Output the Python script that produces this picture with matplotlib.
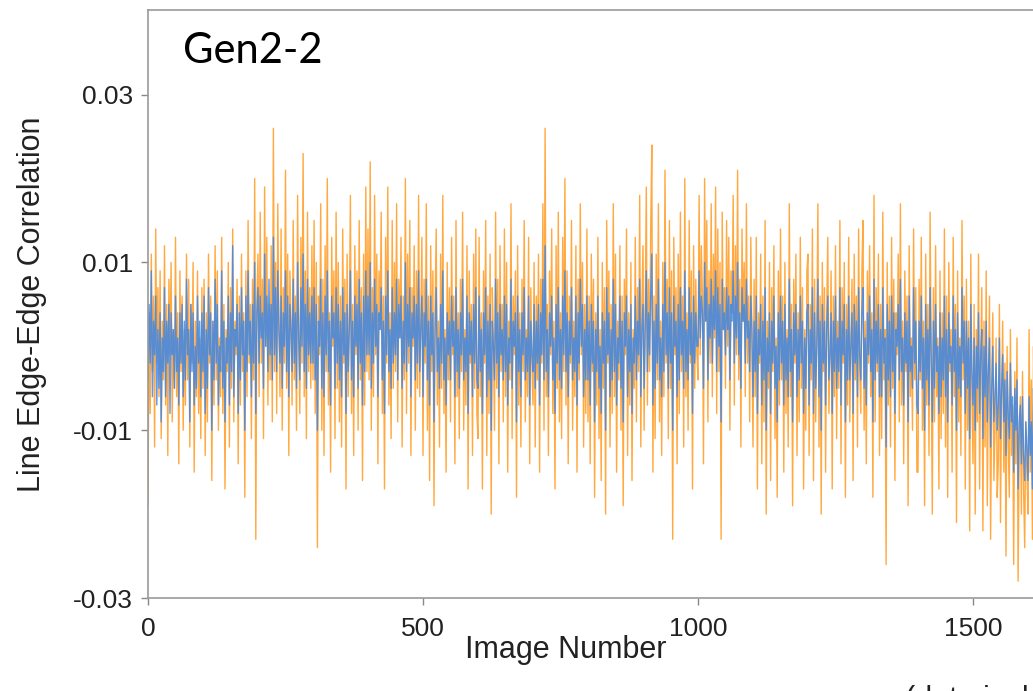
import numpy as np
import matplotlib
matplotlib.use("Agg")
import matplotlib.pyplot as plt

# edge-edge correlation per image, in units of 1e-4, one sample every 2 images
orange_1e4 = [
    -190, 40, -80, 110, -30, 60, -120, 140, -20, 70, -60, 90, -110, 30, -40, 120, -70, 50, -130, 80, -10, 100, -90, 20, -50,
    130, -60, 40, -140, 90, -30, 60, -100, 20, -70, 110, -40, 80, -120, 50, -20, 100, -150, 30, -60, 90, -80, 10, -110, 70,
    -50, 80, -130, 40, -90, 110, -20, 60, -160, 30, -70, 120, -40, 90, -100, 10, -60, 130, -80, 50, -170, 20, -30, 100, -120,
    70, -50, 140, -90, 30, -10, 80, -140, 60, -70, 110, -30, 40, -180, 90, -60, 150, -20, 50, -110, 80, -40, 200, -230, 60,
    110, -60, 160, -20, 80, -110, 190, 0, 130, -70, 50, -40, 120, -90, 260, -30, 100, -80, 170, 20, -60, 140, -100, 70, -20,
    210, -50, 110, -130, 90, 30, -70, 150, -40, 60, -100, 180, 10, -80, 130, -20, 230, -60, 90, -110, 160, -30, 70, -50, 120,
    -40, 150, -80, 100, -240, 60, -10, 170, -100, 80, -130, 120, -30, 200, -70, 40, -150, 130, 0, 90, -110, 160, -50, 100, -90,
    60, -120, 140, -20, 80, -170, 110, -60, 30, 180, -80, 50, -130, 120, -10, 90, -100, 150, -40, 70, -160, 110, -70, 190, -30,
    140, -40, 220, -100, 70, -60, 180, -10, 110, -140, 90, 20, 160, -80, 60, -170, 130, -20, 190, -70, 40, -110, 150, -50, 100,
    -30, 170, -90, 80, 10, 130, -120, 60, -40, 200, -80, 110, -20, 150, -130, 70, 0, 120, -100, 90, -50, 180, -60, 40, 130,
    -130, 80, -20, 170, -100, 60, -160, 120, -30, 90, -190, 50, 140, -70, 30, -120, 110, -50, 180, -80, 20, -150, 100, -40, 70,
    -90, 130, -10, 60, -140, 150, -60, 40, -110, 80, -30, 160, -100, 20, -70, 120, -170, 90, -20, 50, -130, 110, -50, 140, -80,
    -110, 130, -60, 40, -170, 90, -20, 150, -130, 60, -80, 110, -200, 70, 10, -100, 160, -50, 80, -140, 120, -30, 50, -90, 140,
    -60, 100, -150, 30, -40, 170, -110, 60, -10, 90, -180, 120, -70, 40, -120, 80, -30, 150, -90, 20, -60, 130, -140, 70, -20,
    -70, 100, -120, 60, -40, 110, -150, 80, -20, 170, -100, 260, -60, 50, -130, 90, -10, 140, -80, 30, -170, 120, -50, 160, -90,
    40, -110, 130, -30, 200, -70, 90, -140, 60, -20, 150, -100, 30, -60, 120, -150, 80, -40, 170, -10, 100, -120, 50, -80, 140,
    -90, 60, -140, 110, -30, 80, -180, 40, -70, 130, -110, 20, -160, 100, -50, 70, -200, 150, -20, 90, -120, 50, -80, 170, -60,
    110, -150, 30, -40, 120, -100, 60, -190, 80, -10, 140, -130, 40, -70, 100, -160, 20, -50, 130, -90, 70, -30, 180, -120, 50,
    120, -100, 40, 190, -70, 80, -30, 140, 240, -150, 60, -110, 110, -40, 170, -90, 30, -130, 100, -60, 210, -20, 80, -110, 150,
    -50, 90, -230, 130, -10, 70, -140, 110, -80, 160, -30, 60, -120, 200, -60, 40, -100, 150, -20, 90, -170, 120, -50, 80, -10,
    -40, 180, -10, 120, 60, -140, 200, 30, 150, -90, 90, -20, 170, -60, 110, 10, 190, -80, 140, -30, 100, -230, 160, 20, 70,
    -50, 150, 0, 130, -100, 90, 40, 180, -70, 120, -10, 210, -40, 80, -120, 140, 30, 100, -60, 170, -20, 60, -90, 130, 10,
    -120, 80, -60, 130, -170, 40, -20, 110, -140, 60, -90, 150, -200, 30, -50, 100, -160, 70, -30, 120, -110, 10, -180, 90, -70,
    140, -40, 60, -150, 100, -80, 20, -120, 170, -60, 50, -190, 80, -20, 110, -130, 40, -90, 130, -50, 70, -170, 20, -100, 90,
    110, -130, 50, -40, 140, -160, 80, -90, 20, 170, -120, 60, -200, 100, -30, 70, -150, 40, 130, -80, -10, 90, -170, 60, -60,
    120, -110, 30, -50, 150, -140, 70, -20, 100, -180, 50, -70, 130, -90, 10, 80, -160, 110, -40, 60, -120, 140, -30, -80, 90,
    150, -100, 30, -140, 90, -20, 120, -60, 40, -180, 180, -90, 70, -30, 110, -130, 50, -110, 160, -40, 20, -260, 100, -70, 60,
    -120, 130, -50, 80, -160, 40, -10, 110, -90, 170, -70, 30, -140, 90, -30, 60, -190, 120, -60, 10, -100, 140, -40, 70, -150,
    -150, 80, -40, 130, -100, 30, -190, 110, -70, 50, -130, 160, -20, -200, 70, -90, 120, -60, 10, -170, 90, -110, 40, -80, 140,
    -120, 60, -180, 100, -30, 20, -150, 130, -60, 50, -210, 90, -90, 10, -130, 150, -40, 60, -170, 80, -100, 30, -220, 110, -60,
    -140, 50, -200, 20, -90, 110, -170, -10, 70, -220, 30, -120, 90, -190, -40, 60, -230, -60, 40, -160, -100, 10, -180, -140, 50,
    -210, -60, 30, -150, -20, -250, 0, -110, -180, 20, -130, -70, -260, -30, -140, 10, -280, -120, -60, -200, -30, -170, -240, -90, -150,
    -200, 20, -150, -40, -230, 0, -120, -180, 30, -90, -160, -20, -110, -210, -50, -130, 10, -170, -80, -140, -30, -190, -70, -120, -40,
]
blue_1e4 = [
    -40, 50, -20, 90, -60, 30, -10, 60, -70, 20, -50, 40, -90, 10, -30, 70, -60, 30, -20, 50, -80, 40, -10, 20, -50,
    60, -30, 10, -70, 40, -20, 50, -60, 30, -40, 80, -10, 20, -90, 50, -30, 40, -70, 0, -50, 60, -20, 30, -60, 40,
    -30, 60, -80, 20, -50, 70, -10, 40, -100, 30, -40, 80, -20, 50, -70, 0, -30, 90, -50, 30, -90, 10, -20, 60, -70,
    40, -30, 120, -60, 20, 0, 50, -80, 40, -40, 70, -10, 30, -100, 60, -30, 90, -10, 30, -60, 50, -20, 100, -80, 40,
    70, -20, 60, 10, 40, -50, 110, 0, 60, -30, 80, -10, 50, -40, 130, -10, 70, -30, 90, 20, -20, 60, -50, 40, 0,
    90, -30, 60, -60, 50, 20, -30, 80, -20, 40, -50, 100, 10, -40, 70, 0, 110, -30, 50, -50, 80, -10, 40, -20, 60,
    -20, 70, -40, 50, -100, 30, 0, 80, -50, 40, -60, 60, -10, 90, -30, 30, -70, 60, 10, 40, -50, 70, -20, 50, -40,
    30, -60, 70, -10, 40, -80, 50, -30, 20, 90, -40, 30, -60, 60, 0, 50, -50, 80, -20, 40, -70, 60, -30, 90, -10,
    60, -10, 100, -50, 40, -20, 80, 0, 50, -60, 40, 20, 70, -40, 30, -80, 60, -10, 90, -30, 20, -50, 70, -20, 40,
    -10, 80, -40, 50, 10, 60, -50, 30, -20, 100, -30, 50, 0, 70, -60, 40, 10, 60, -40, 50, -20, 90, -30, 20, 60,
    -60, 40, 0, 80, -40, 30, -70, 60, -10, 40, -90, 20, 70, -30, 10, -50, 50, -20, 90, -40, 10, -70, 40, -10, 30,
    -40, 60, 0, 30, -60, 70, -30, 20, -50, 40, -10, 80, -40, 10, -30, 60, -80, 40, -10, 30, -60, 50, -20, 70, -40,
    -50, 60, -30, 20, -80, 40, -10, 70, -60, 30, -40, 50, -100, 30, 0, -40, 80, -20, 40, -60, 50, -10, 20, -40, 60,
    -30, 50, -70, 10, -20, 80, -50, 30, 0, 40, -90, 60, -30, 20, -60, 40, -10, 70, -40, 10, -30, 60, -70, 30, -10,
    -30, 50, -50, 30, -20, 50, -70, 40, -10, 80, -40, 120, -30, 20, -60, 40, 0, 60, -40, 10, -80, 50, -20, 70, -40,
    20, -50, 60, -10, 90, -30, 40, -60, 30, -10, 70, -40, 10, -30, 60, -70, 40, -20, 80, 0, 50, -60, 20, -40, 60,
    -40, 30, -70, 50, -20, 30, -90, 20, -30, 60, -50, 0, -80, 40, -20, 30, -100, 70, -10, 40, -60, 20, -40, 80, -30,
    50, -70, 10, -20, 60, -50, 30, -90, 40, 0, 60, -60, 20, -30, 50, -80, 10, -20, 60, -40, 30, -10, 80, -60, 20,
    50, -50, 20, 90, -30, 40, -10, 60, 110, -70, 30, -50, 50, -20, 80, -40, 10, -60, 50, -30, 100, -10, 40, -50, 70,
    -20, 40, -100, 60, 0, 30, -60, 50, -40, 70, -10, 30, -50, 90, -30, 20, -40, 70, -10, 40, -80, 60, -20, 40, 0,
    0, 90, 10, 60, 40, -50, 100, 30, 70, -40, 50, 10, 80, -20, 60, 20, 90, -30, 70, 0, 50, -90, 80, 20, 40,
    -10, 70, 20, 60, -40, 50, 30, 90, -20, 60, 10, 100, -10, 40, -50, 70, 30, 50, -20, 80, 10, 30, -30, 60, 20,
    -60, 30, -30, 60, -80, 20, -10, 50, -70, 30, -40, 70, -100, 10, -30, 40, -80, 30, -20, 60, -50, 0, -90, 40, -40,
    60, -20, 30, -70, 50, -40, 10, -60, 80, -30, 20, -90, 40, -10, 50, -60, 20, -40, 60, -20, 30, -80, 10, -50, 40,
    50, -70, 20, -20, 70, -80, 40, -50, 0, 80, -60, 30, -100, 50, -20, 30, -70, 20, 60, -40, -10, 40, -80, 30, -30,
    60, -50, 10, -30, 70, -70, 30, -10, 50, -90, 20, -40, 60, -40, 0, 40, -80, 50, -20, 30, -60, 70, -10, -40, 40,
    70, -50, 10, -70, 40, -10, 60, -30, 20, -90, 80, -40, 30, -20, 50, -60, 20, -60, 70, -20, 10, -120, 50, -40, 30,
    -60, 60, -30, 40, -80, 20, 0, 50, -40, 80, -30, 10, -70, 40, -20, 30, -90, 60, -30, 0, -50, 70, -20, 30, -70,
    -80, 30, -30, 60, -50, 10, -100, 50, -40, 20, -70, 70, -10, -90, 30, -50, 50, -30, 0, -80, 40, -60, 10, -40, 60,
    -60, 20, -90, 40, -20, 0, -70, 60, -30, 20, -100, 40, -50, 0, -60, 70, -20, 30, -80, 30, -50, 10, -110, 50, -30,
    -70, 10, -100, 0, -50, 40, -80, -10, 20, -110, 0, -60, 30, -90, -30, 10, -120, -50, 0, -90, -60, -20, -100, -70, 10,
    -110, -50, -10, -90, -40, -130, -30, -80, -110, -20, -90, -60, -150, -50, -100, -40, -170, -90, -70, -140, -60, -130, -160, -90, -120,
    -160, -60, -130, -90, -170, -50, -110, -150, -40, -100, -140, -70, -120, -160, -80, -110, -50, -140, -90, -120, -60, -150, -100, -130, -70,
]

x_ticks = [0, 500, 1000, 1500]
x_tick_labels = ["0", "500", "1000", "1500"]
y_ticks = [-0.03, -0.01, 0.01, 0.03]
y_tick_labels = ["-0.03", "-0.01", "0.01", "0.03"]

orange = np.array(orange_1e4) * 1e-4
blue = np.array(blue_1e4) * 1e-4
orange_x = np.arange(len(orange)) * 2
blue_x = np.arange(len(blue)) * 2

plt.rcParams["font.family"] = ["Liberation Sans", "DejaVu Sans"]

fig = plt.figure(figsize=(10.33, 6.91), dpi=100)
# axes runs past the right edge of the figure, so the frame is cut off there
ax = fig.add_axes([148 / 1033, 93 / 691, 990 / 1033, 588 / 691])

ax.plot(orange_x, orange, color="#FF8C00", lw=1.0, alpha=0.75)
ax.plot(blue_x, blue, color="#3585F0", lw=1.0, alpha=0.82)

ax.set_xlim(0, 1800)
ax.set_ylim(-0.03, 0.0401)
ax.set_xticks(x_ticks)
ax.set_xticklabels(x_tick_labels)
ax.set_yticks(y_ticks)
ax.set_yticklabels(y_tick_labels)
ax.tick_params(axis="both", direction="out", length=5, width=1, color="#888888",
               labelsize=19, labelcolor="#222222")
ax.tick_params(axis="x", pad=9)
ax.tick_params(axis="y", pad=6)

for side in ["left", "bottom", "top", "right"]:
    ax.spines[side].set_color("#999999")
    ax.spines[side].set_linewidth(1.2)

ax.set_ylabel("Line Edge-Edge Correlation", fontsize=22, color="#222222")
ax.yaxis.set_label_coords(-101 / 990, 0.5)

fig.text(566 / 1033, 1 - 658 / 691, "Image Number", fontsize=22, color="#222222",
         ha="center", va="baseline")
fig.text(905 / 1033, 1 - 708 / 691, "(data included", fontsize=22, color="#222222",
         ha="left", va="baseline")

ax.text(64, 0.0338, "Gen2-2", fontsize=30, family=["Lato", "DejaVu Sans"],
        color="black", ha="left", va="baseline")

fig.savefig("out.png", dpi=100)
